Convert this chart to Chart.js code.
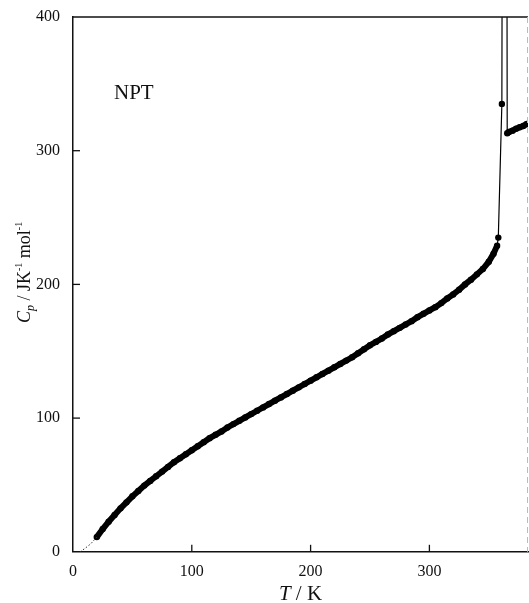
<!DOCTYPE html>
<html>
<head>
<meta charset="utf-8">
<script src="https://cdn.jsdelivr.net/npm/chart.js@4"></script>
<style>
html,body{margin:0;padding:0;background:#fff;}
#wrap{position:relative;width:529px;height:603px;}
</style>
</head>
<body>
<div id="wrap"><canvas id="c" width="529" height="603"></canvas></div>
<script>
// Temperature (K) and heat capacity (J K^-1 mol^-1)
const temps = [20,25,30,35,40,45,50,55,60,65,70,75,80,85,90,95,100,105,110,115,120,125,130,135,140,145,150,155,160,165,170,175,180,185,190,195,200,205,210,215,220,225,230,235,240,245,250,255,260,265,270,275,280,285,290,295,300,305,310,315,320,325,330,335,340,345,350,354,357,358,361,363.5,365.5,367,370,373,376,379,382];
const cpValues = [11,17,22.5,27.5,32.5,37,41.5,45.5,49.5,53,56.5,60,63.5,67,70,73,76,79,82,85,87.5,90,93,95.5,98,100.5,103,105.5,108,110.5,113,115.5,118,120.5,123,125.5,128,130.5,133,135.5,138,140.5,143,145.5,148.5,151.5,154.5,157,159.5,162.5,165,167.5,170,172.5,175.5,178,180.5,183,186,189.5,192.5,196,200,203.5,207.5,211.5,217,223,229,235,335,1500,313,314,315,316.5,317.5,318.5,320];
// low-temperature extrapolation (dotted)
const extrapT = [6,10,15,20];
const extrapCp = [0,2.5,6,11];
const xTicks = [0,100,200,300];
const yTicks = [0,100,200,300,400];
const panelLabel = 'NPT';

const serif = '"Liberation Serif","DejaVu Serif",serif';

const framePlugin = {
  id: 'frame',
  afterDraw(chart) {
    const {ctx, chartArea: a, scales: {x, y}} = chart;
    ctx.save();
    // top border
    ctx.strokeStyle = '#111';
    ctx.lineWidth = 1.5;
    ctx.beginPath(); ctx.moveTo(a.left, a.top); ctx.lineTo(a.right, a.top); ctx.stroke();
    // right border dashed faint
    ctx.strokeStyle = '#bbb';
    ctx.lineWidth = 1;
    ctx.setLineDash([6,4]);
    ctx.beginPath(); ctx.moveTo(a.right - 0.5, a.top); ctx.lineTo(a.right - 0.5, a.bottom); ctx.stroke();
    ctx.setLineDash([]);
    // inward ticks
    ctx.strokeStyle = '#111';
    ctx.lineWidth = 1.3;
    xTicks.forEach(v => { if (v === 0) return; const px = x.getPixelForValue(v);
      ctx.beginPath(); ctx.moveTo(px, a.bottom); ctx.lineTo(px, a.bottom - 7); ctx.stroke(); });
    yTicks.forEach(v => { if (v === 0 || v === 400) return; const py = y.getPixelForValue(v);
      ctx.beginPath(); ctx.moveTo(a.left, py); ctx.lineTo(a.left + 7, py); ctx.stroke(); });
    // panel label
    ctx.fillStyle = '#111';
    ctx.font = '21px ' + serif;
    ctx.textBaseline = 'alphabetic';
    ctx.textAlign = 'left';
    ctx.fillText(panelLabel, a.left + 41, a.top + 82);
    // x axis title: T / K
    const xc = (a.left + a.right) / 2;
    const parts = [['italic 21px ' + serif, 'T', 0], ['21px ' + serif, ' / K', 0]];
    drawRich(ctx, parts, xc, 600);
    // y axis title
    ctx.save();
    ctx.translate(30, (a.top + a.bottom) / 2 - 12);
    ctx.rotate(-Math.PI / 2);
    const yparts = [
      ['italic 18px ' + serif, 'C', 0],
      ['italic 12px ' + serif, 'p', 4],
      ['18px ' + serif, ' / JK', 0],
      ['10px ' + serif, '-1', -8],
      ['18px ' + serif, ' mol', 0],
      ['10px ' + serif, '-1', -8]
    ];
    drawRich(ctx, yparts, 0, 0);
    ctx.restore();
    ctx.restore();
  }
};

function drawRich(ctx, parts, cx, baseY) {
  ctx.textAlign = 'left';
  ctx.textBaseline = 'alphabetic';
  let total = 0;
  parts.forEach(p => { ctx.font = p[0]; total += ctx.measureText(p[1]).width; });
  let xx = cx - total / 2;
  parts.forEach(p => { ctx.font = p[0]; ctx.fillText(p[1], xx, baseY + p[2]); xx += ctx.measureText(p[1]).width; });
}

const mainData = temps.map((t, i) => ({x: t, y: cpValues[i]}));
const extrapData = extrapT.map((t, i) => ({x: t, y: extrapCp[i]}));

const noOverflow = s => { s.paddingTop = 0; s.paddingBottom = 0; s.paddingLeft = 0; s.paddingRight = 0; };

new Chart(document.getElementById('c'), {
  type: 'scatter',
  data: {
    datasets: [
      {
        data: extrapData,
        showLine: true,
        borderColor: '#333',
        borderWidth: 1,
        borderDash: [1.5, 2],
        pointRadius: 0,
        tension: 0
      },
      {
        data: mainData,
        showLine: true,
        borderColor: '#000',
        backgroundColor: '#000',
        pointBackgroundColor: '#000',
        pointBorderWidth: 0,
        pointRadius: ctx => (ctx.raw && ctx.raw.y > 400) ? 0 : 3.2,
        tension: 0,
        segment: {
          borderWidth: ctx => (ctx.p0.parsed.x >= 356 && ctx.p1.parsed.x <= 366) ? 1.2 : 6
        }
      }
    ]
  },
  options: {
    responsive: false,
    animation: false,
    events: [],
    layout: {autoPadding: false, padding: {left: 23, right: 1, top: 17, bottom: 12}},
    plugins: {legend: {display: false}, tooltip: {enabled: false}, title: {display: false}},
    scales: {
      x: {
        type: 'linear', min: 0, max: 383,
        grid: {display: false, drawTicks: false},
        border: {display: true, color: '#111', width: 1.5},
        afterBuildTicks: s => { s.ticks = xTicks.map(v => ({value: v})); },
        afterFit: noOverflow,
        ticks: {color: '#111', font: {family: serif, size: 16}, padding: 10, maxRotation: 0}
      },
      y: {
        type: 'linear', min: 0, max: 400,
        grid: {display: false, drawTicks: false},
        border: {display: true, color: '#111', width: 1.5},
        afterBuildTicks: s => { s.ticks = yTicks.map(v => ({value: v})); },
        afterFit: noOverflow,
        ticks: {color: '#111', font: {family: serif, size: 16}, padding: 13}
      }
    }
  },
  plugins: [framePlugin]
});
</script>
</body>
</html>
